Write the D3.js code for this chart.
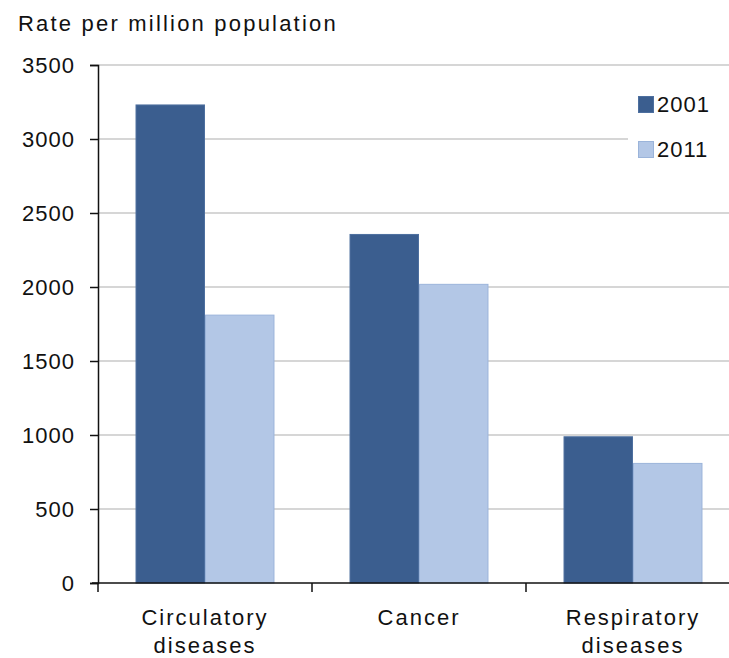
<!DOCTYPE html>
<html><head><meta charset="utf-8">
<script src="https://cdn.jsdelivr.net/npm/d3@7"></script>
<style>
html,body{margin:0;padding:0;background:#fff;}
svg{display:block;}
text{font-family:"Liberation Sans",Arial,sans-serif;fill:#111;}
</style></head>
<body>
<script>
const categories = [["Circulatory","diseases"],["Cancer"],["Respiratory","diseases"]];
const categoryKeys = ["Circulatory diseases","Cancer","Respiratory diseases"];
const series = ["2001","2011"];
const values2001 = [3230, 2355, 988];
const values2011 = [1810, 2018, 808];
const yTicks = [0,500,1000,1500,2000,2500,3000,3500];
const title = "Rate per million population";
const colors = ["#3b5e8f","#b3c7e6"];
const strokes = ["#4d6f9f","#9bb4da"];

const W = 729, H = 658;
const svg = d3.select("body").append("svg").attr("width", W).attr("height", H);

const y = d3.scaleLinear().domain([0,3500]).range([583,65]);
const x = d3.scaleBand().domain(categoryKeys).range([98,740]).padding(0);
const xs = d3.scaleBand().domain(series).range([0,x.bandwidth()]).paddingInner(0).paddingOuter(0.54);

// gridlines
svg.append("g").selectAll("line").data(yTicks.filter(d=>d>0)).join("line")
  .attr("x1",98).attr("x2",W).attr("y1",d=>y(d)).attr("y2",d=>y(d))
  .attr("stroke","#c9c9c9").attr("stroke-width",1.5);

// legend background covering grid
svg.append("rect").attr("x",628).attr("y",88).attr("width",101).attr("height",76).attr("fill","#fff");

// bars
const data = categoryKeys.map((c,i)=>({c, v:[values2001[i], values2011[i]]}));
const g = svg.append("g");
data.forEach(d=>{
  series.forEach((s,j)=>{
    g.append("rect")
      .attr("x", x(d.c)+xs(s)+0.5)
      .attr("y", y(d.v[j]))
      .attr("width", xs.bandwidth()-1)
      .attr("height", y(0)-y(d.v[j]))
      .attr("fill", colors[j]).attr("stroke", strokes[j]).attr("stroke-width",1);
  });
});

// y axis
const yAxis = d3.axisLeft(y).tickValues(yTicks).tickSize(8).tickPadding(15).tickFormat(d3.format("d"));
const ya = svg.append("g").attr("transform","translate(98,0)").call(yAxis);
ya.select(".domain").attr("stroke","#111").attr("stroke-width",1.5);
ya.selectAll(".tick line").attr("stroke","#111").attr("stroke-width",1.5);
ya.selectAll(".tick text").attr("font-size",22).style("letter-spacing","1px").attr("fill","#111")
  .attr("dy","0.35em").style("font-family","'Liberation Sans',Arial,sans-serif");

// x axis
const xa = svg.append("g").attr("transform","translate(0,583)");
xa.append("line").attr("x1",92).attr("x2",W).attr("y1",0).attr("y2",0).attr("stroke","#111").attr("stroke-width",1.5);
xa.selectAll("line.tk").data(categoryKeys).join("line").attr("class","tk")
  .attr("x1",d=>x(d)).attr("x2",d=>x(d)).attr("y1",0).attr("y2",9)
  .attr("stroke","#111").attr("stroke-width",1.5);
categories.forEach((lines,i)=>{
  const t = xa.append("text").attr("x", x(categoryKeys[i])+x.bandwidth()/2).attr("y",42)
    .attr("text-anchor","middle").attr("font-size",22).style("letter-spacing","2px");
  lines.forEach((l,k)=>{
    t.append("tspan").attr("x", x(categoryKeys[i])+x.bandwidth()/2).attr("dy", k===0?0:28).text(l);
  });
});

// title
svg.append("text").attr("x",18).attr("y",31).attr("font-size",22).style("letter-spacing","2.2px").text(title);

// legend
series.forEach((s,j)=>{
  const ly = 96 + j*45;
  svg.append("rect").attr("x",638.5).attr("y",ly+0.5).attr("width",15).attr("height",16)
    .attr("fill",colors[j]).attr("stroke",strokes[j]).attr("stroke-width",1);
  svg.append("text").attr("x",657).attr("y",ly+16).attr("font-size",22).style("letter-spacing","1px").text(s);
});
</script>
</body></html>
